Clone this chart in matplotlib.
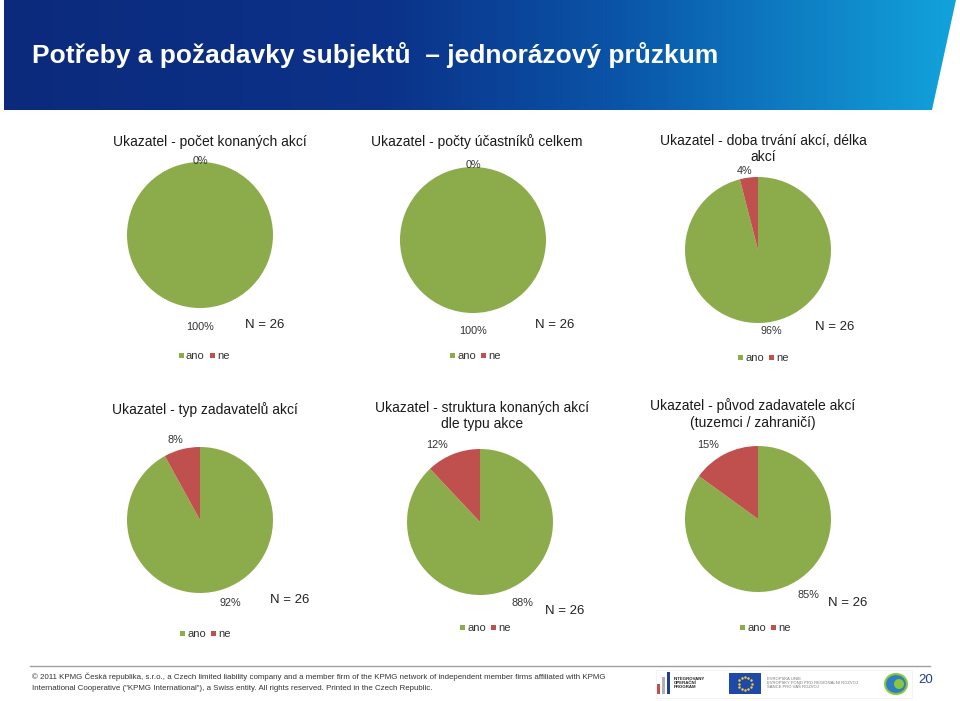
import numpy as np
import matplotlib.pyplot as plt
from matplotlib.patches import Polygon, Rectangle, Circle, Ellipse
from matplotlib.colors import LinearSegmentedColormap

plt.rcParams['font.family'] = ['Liberation Sans', 'DejaVu Sans']

W, H = 960, 701

page_title = "Potřeby a požadavky subjektů  – jednorázový průzkum"
chart_titles = [
    "Ukazatel - počet konaných akcí",
    "Ukazatel - počty účastníků celkem",
    "Ukazatel - doba trvání akcí, délka\nakcí",
    "Ukazatel - typ zadavatelů akcí",
    "Ukazatel - struktura konaných akcí\ndle typu akce",
    "Ukazatel - původ zadavatele akcí\n(tuzemci / zahraničí)",
]
ano = [100, 100, 96, 92, 88, 85]
ne = [0, 0, 4, 8, 12, 15]
n_resp = [26, 26, 26, 26, 26, 26]
categories = ["ano", "ne"]

GREEN = "#8CAC4B"
RED = "#C0504D"

# layout in pixels: pie centre, title centre, label positions, N, legend start
layout = [
    dict(c=(200, 235), t=(210, 142), ne=(200, 161), ano=(200, 327), n=(265, 325), lg=(179, 356)),
    dict(c=(473, 240), t=(477, 142), ne=(473, 165), ano=(473, 331), n=(555, 325), lg=(450, 356)),
    dict(c=(758, 250), t=(763, 149), ne=(745, 171), ano=(771, 331), n=(835, 327), lg=(738, 358)),
    dict(c=(200, 520), t=(205, 410), ne=(175, 440), ano=(230, 603), n=(290, 600), lg=(180, 634)),
    dict(c=(480, 522), t=(482, 416), ne=(437, 445), ano=(522, 603), n=(565, 611), lg=(460, 628)),
    dict(c=(758, 519), t=(753, 414), ne=(708, 445), ano=(808, 595), n=(848, 603), lg=(740, 628)),
]
R = 73


def fx(x):
    return x / W


def fy(y):
    return 1 - y / H


fig = plt.figure(figsize=(W / 100, H / 100), dpi=100)

# background layer in pixel coordinates
bg = fig.add_axes([0, 0, 1, 1])
bg.set_xlim(0, W)
bg.set_ylim(H, 0)
bg.axis("off")

cmap = LinearSegmentedColormap.from_list(
    "hdr", [(0, "#0B2A7C"), (0.4, "#0B3289"), (0.65, "#0A55A8"), (1, "#12A3DC")])
grad = np.linspace(0, 1, 256).reshape(1, -1)
im = bg.imshow(grad, cmap=cmap, extent=[4, 957, 110, 0], aspect="auto")
hdr = Polygon([(4, 0), (956, 0), (932, 110), (4, 110)], closed=True,
              facecolor="none", edgecolor="none")
bg.add_patch(hdr)
im.set_clip_path(hdr)
bg.set_xlim(0, W)
bg.set_ylim(H, 0)

fig.text(fx(32), fy(55), page_title, color="white", fontsize=19,
         fontweight="bold", va="center", ha="left")

for i in range(6):
    L = layout[i]
    cx, cy = L["c"]
    ax = fig.add_axes([fx(cx - R), fy(cy + R), 2 * R / W, 2 * R / H])
    ax.pie([ano[i], ne[i]], colors=[GREEN, RED], startangle=90,
           counterclock=False, radius=1.0,
           wedgeprops=dict(linewidth=0))
    ax.set_xlim(-1, 1)
    ax.set_ylim(-1, 1)
    ax.set_aspect("auto")

    fig.text(fx(L["t"][0]), fy(L["t"][1]), chart_titles[i], ha="center",
             va="center", fontsize=10, color="#1a1a1a", linespacing=1.2)
    fig.text(fx(L["ne"][0]), fy(L["ne"][1]), f"{ne[i]}%", ha="center",
             va="center", fontsize=7.8, color="#333333")
    fig.text(fx(L["ano"][0]), fy(L["ano"][1]), f"{ano[i]}%", ha="center",
             va="center", fontsize=7.8, color="#333333")
    fig.text(fx(L["n"][0]), fy(L["n"][1]), f"N = {n_resp[i]}", ha="center",
             va="center", fontsize=9.5, color="#222222")

    # legend
    x0, ly = L["lg"]
    bg.add_patch(Rectangle((x0, ly - 3), 5, 5, facecolor=GREEN, edgecolor="none"))
    bg.text(x0 + 7, ly, categories[0], fontsize=8, va="center", ha="left", color="#333333")
    bg.add_patch(Rectangle((x0 + 31, ly - 3), 5, 5, facecolor=RED, edgecolor="none"))
    bg.text(x0 + 38, ly, categories[1], fontsize=8, va="center", ha="left", color="#333333")

# footer
bg.plot([30, 930], [666, 666], color="#A0A0A0", linewidth=1)
bg.text(32, 677, "© 2011 KPMG Česká republika, s.r.o., a Czech limited liability company and a "
        "member firm of the KPMG network of independent member firms affiliated with KPMG",
        fontsize=5.7, va="center", ha="left", color="#333333")
bg.text(32, 688, "International Cooperative (\"KPMG International\"), a Swiss entity. All rights "
        "reserved. Printed in the Czech Republic.",
        fontsize=5.7, va="center", ha="left", color="#333333")
bg.text(918, 680, "20", fontsize=9.5, va="center", ha="left", color="#1F3F8F")

# logos
bg.add_patch(Rectangle((656, 670), 256, 28, facecolor="white", edgecolor="#EEEEEE", linewidth=0.5))
bg.add_patch(Rectangle((657, 684), 3, 10, facecolor="#C0504D", edgecolor="none"))
bg.add_patch(Rectangle((662, 677), 3, 17, facecolor="#B0B0B0", edgecolor="none"))
bg.add_patch(Rectangle((667, 672), 3, 22, facecolor="#1F3F8F", edgecolor="none"))
bg.text(674, 683, "INTEGROVANÝ\nOPERAČNÍ\nPROGRAM", fontsize=3.2, fontweight="bold",
        va="center", ha="left", color="#222222", linespacing=1.0)
bg.add_patch(Rectangle((729, 673), 32, 21, facecolor="#1F49A8", edgecolor="none"))
ang = np.linspace(0, 2 * np.pi, 12, endpoint=False)
bg.scatter(745 + 6.5 * np.cos(ang), 683.5 + 6.5 * np.sin(ang), s=0.6, color="#F5D130")
bg.text(767, 683, "EVROPSKÁ UNIE\nEVROPSKÝ FOND PRO REGIONÁLNÍ ROZVOJ\nŠANCE PRO VÁŠ ROZVOJ",
        fontsize=3.0, va="center", ha="left", color="#777777", linespacing=1.1)
bg.add_patch(Ellipse((896, 684), 22, 20, facecolor="#2E7FBF", edgecolor="#8CC63F", linewidth=1.5))
bg.add_patch(Circle((899, 684), 5, facecolor="#8CC63F", edgecolor="none"))

fig.savefig("out.png", dpi=100)
